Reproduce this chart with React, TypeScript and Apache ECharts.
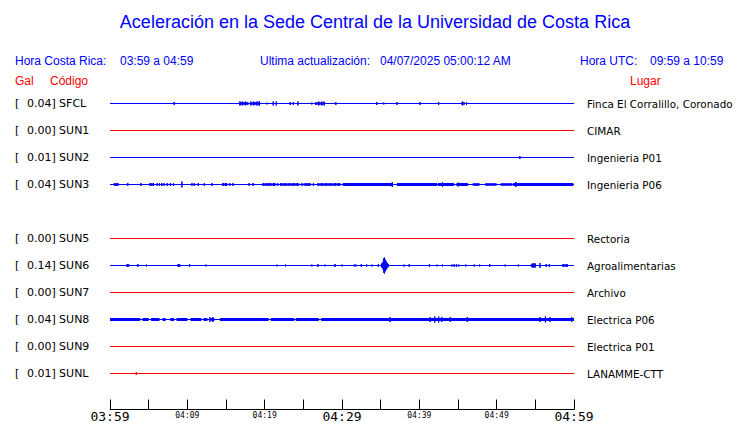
import React, { useEffect, useRef } from 'react';
import * as echarts from 'echarts';

// ---------- data ----------
const codes = ['SFCL', 'SUN1', 'SUN2', 'SUN3', 'SUN5', 'SUN6', 'SUN7', 'SUN8', 'SUN9', 'SUNL'];
const rows = [0, 1, 2, 3, 5, 6, 7, 8, 9, 10];
const pga = [0.04, 0.0, 0.01, 0.04, 0.0, 0.14, 0.0, 0.04, 0.0, 0.01];
const places = [
  'Finca El Corralillo, Coronado', 'CIMAR', 'Ingenieria P01', 'Ingenieria P06', 'Rectoria',
  'Agroalimentarias', 'Archivo', 'Electrica P06', 'Electrica P01', 'LANAMME-CTT',
];
const active = [true, false, true, true, false, true, false, true, false, false];
const tickLabels = ['03:59', '04:09', '04:19', '04:29', '04:39', '04:49', '04:59'];
const bigTickLabels = ['03:59', '04:29', '04:59'];

// spikes: [minute, half amplitude in px]; bands: [start, end, half width in px]
const sfclSpikes = [[8.3, 1.5], [16.8, 2], [17.1, 2], [17.5, 2], [17.8, 1.5], [18.2, 2], [18.6, 2], [19.0, 2], [19.3, 2.5], [20.3, 1], [21.1, 2], [21.5, 2], [23.3, 1.5], [23.7, 1.5], [24.3, 2], [26.1, 1], [26.6, 1.5], [27.0, 2], [27.4, 2], [27.7, 2], [29.2, 1.5], [34.5, 1.5], [35.4, 1], [37.1, 1.5], [40.1, 1.5], [42.5, 1.5], [45.6, 2], [46.1, 1.5]];
const sfclBands = [[16.7, 17.9, 1.3], [18.2, 19.4, 1.3], [26.6, 27.7, 1.2], [45.4, 45.9, 1.2]];
const sun1Spikes: number[][] = [];
const sun1Bands: number[][] = [];
const sun2Spikes = [[53.0, 1.5]];
const sun2Bands: number[][] = [];
const sun3Spikes = [[0.6, 1.5], [1.0, 1.5], [2.3, 1.5], [4.0, 1.5], [5.2, 1.5], [5.6, 1.5], [6.1, 1.5], [6.4, 1.5], [6.7, 1.5], [7.0, 1.5], [7.4, 1.5], [7.8, 1.5], [8.2, 1.5], [9.3, 3], [10.6, 1.5], [10.9, 1.5], [11.4, 1.5], [12.2, 1.5], [13.2, 1.5], [14.6, 1.5], [15.0, 1.5], [15.5, 1.5], [15.9, 1.5], [18.0, 1.5], [18.5, 1.5], [19.8, 1.5], [20.3, 1.5], [20.7, 1.5], [21.2, 1.5], [21.7, 1.5], [22.1, 1.5], [22.6, 1.5], [23.2, 1.5], [23.7, 1.5], [24.2, 1.5], [24.8, 1.5], [25.3, 1.5], [25.7, 1.5], [26.3, 1.5], [26.9, 1.5], [27.4, 1.5], [28.0, 1.5], [28.5, 1.5], [29.1, 1.5], [29.6, 1.5], [36.5, 2.5], [43.0, 2.5], [45.0, 2], [52.5, 2.5]];
const sun3Bands = [[0.5, 1.1, 1.3], [5.1, 5.7, 1.2], [14.5, 15.2, 1.2], [19.8, 21.5, 1.2], [22.0, 24.5, 1.2], [25.0, 26.0, 1.2], [27.0, 29.8, 1.2], [30.1, 36.6, 1.5], [37.1, 42.3, 1.5], [42.4, 44.5, 1.5], [44.8, 46.3, 1.5], [46.9, 47.8, 1.3], [48.5, 50.0, 1.3], [50.5, 52.0, 1.3], [52.1, 59.9, 1.5]];
const sun5Spikes: number[][] = [];
const sun5Bands: number[][] = [];
const sun6Spikes = [[2.3, 1.5], [3.6, 1.5], [4.7, 1], [8.9, 1.5], [10.3, 1.5], [12.4, 1], [21.6, 1], [22.7, 1], [26.1, 1], [26.9, 1.5], [27.8, 1], [29.1, 1.5], [30.0, 1], [31.6, 1], [31.8, 1], [32.5, 1.5], [33.2, 1], [33.9, 1], [34.7, 1.5], [35.1, 2], [35.25, 3], [35.35, 5], [35.42, 7.5], [35.5, 8], [35.58, 6], [35.65, 5], [35.72, 4], [35.8, 3], [35.9, 2], [36.0, 1.5], [38.0, 1], [38.7, 1.5], [41.3, 1.5], [42.3, 1], [43.0, 1], [44.2, 1], [44.5, 1.5], [44.8, 1.5], [45.1, 1], [46.0, 1], [47.1, 1], [47.8, 1], [49.1, 1.5], [51.1, 1], [52.8, 1], [54.6, 2], [54.8, 2.5], [55.0, 2], [55.6, 2.5], [56.4, 1.5], [56.8, 1.5], [58.6, 1.5], [59.1, 1.5]];
const sun6Bands = [[2.1, 2.5, 1.3], [8.7, 9.1, 1.3], [35.2, 35.9, 2], [54.4, 55.1, 1.3], [58.5, 59.2, 1.2]];
const sun7Spikes: number[][] = [];
const sun7Bands: number[][] = [];
const sun8Spikes = [[12.9, 2.5], [13.3, 2.5], [36.2, 2.5], [41.4, 2.5], [42.0, 3], [42.5, 3], [42.9, 2.5], [44.0, 2.5], [46.2, 2.5], [55.6, 2.5], [56.3, 3], [56.9, 2.5], [59.7, 2.5]];
const sun8Bands = [[0, 3.9, 1.5], [4.2, 5.0, 1.5], [5.3, 6.4, 1.5], [6.8, 7.2, 1.5], [7.8, 8.3, 1.5], [8.6, 10.0, 1.5], [10.4, 11.8, 1.5], [12.1, 12.6, 1.5], [13.0, 13.5, 1.5], [14.2, 20.5, 1.5], [20.8, 23.8, 1.5], [24.0, 27.0, 1.5], [27.3, 60, 1.5]];
const sun9Spikes: number[][] = [];
const sun9Bands: number[][] = [];
const sunlSpikes = [[3.4, 1.5]];
const sunlBands: number[][] = [];

const allSpikes = [sfclSpikes, sun1Spikes, sun2Spikes, sun3Spikes, sun5Spikes, sun6Spikes, sun7Spikes, sun8Spikes, sun9Spikes, sunlSpikes];
const allBands = [sfclBands, sun1Bands, sun2Bands, sun3Bands, sun5Bands, sun6Bands, sun7Bands, sun8Bands, sun9Bands, sunlBands];

// ---------- layout ----------
const BLUE = '#0000ff';
const RED = '#ff0000';
const ROW_PX = 27;
const Y_MIN = -1;
const GRID_TOP = 76.5;
const GRID_BOTTOM = 13.5;
const GRID_H = 423 - GRID_TOP - GRID_BOTTOM;
const Y_MAX = Y_MIN + GRID_H / ROW_PX;
const SANS = '"Liberation Sans", Arial, sans-serif';
const DEJAVU = '"DejaVu Sans", sans-serif';
const MONO = '"DejaVu Sans Mono", monospace';

function rowIndex(v: number): number {
  const r = Math.round(v);
  if (Math.abs(v - r) > 1e-6) return -1;
  return rows.indexOf(r);
}

export default function App() {
  const ref = useRef<HTMLDivElement>(null);

  useEffect(() => {
    if (!ref.current) return;
    const chart = echarts.init(ref.current, undefined, { renderer: 'svg' });

    const series: any[] = [];
    codes.forEach((code, i) => {
      const row = rows[i];
      const color = active[i] ? BLUE : RED;
      const sp = [...allSpikes[i]].sort((a, b) => a[0] - b[0]);
      const pts: number[][] = [[0, row]];
      sp.forEach(([m, a]) => {
        const d = a / ROW_PX;
        pts.push([m, row], [m, row - d], [m, row + d], [m, row]);
      });
      pts.push([60, row]);
      series.push({
        type: 'line',
        name: code,
        data: pts,
        symbol: 'none',
        lineStyle: { color, width: 1 },
        silent: true,
        z: 2,
      });
      if (allBands[i].length) {
        series.push({
          type: 'custom',
          name: code + '-band',
          data: allBands[i].map((b) => [b[0], b[1], row, b[2]]),
          encode: { x: [0, 1], y: 2 },
          silent: true,
          z: 3,
          renderItem: (params: any, api: any) => {
            const p1 = api.coord([api.value(0), api.value(2)]);
            const p2 = api.coord([api.value(1), api.value(2)]);
            const h = api.value(3);
            return {
              type: 'rect',
              shape: { x: p1[0], y: p1[1] - h, width: p2[0] - p1[0], height: 2 * h },
              style: { fill: color },
            };
          },
        });
      }
    });

    const option: any = {
      animation: false,
      backgroundColor: '#ffffff',
      grid: {
        left: 110, right: 166, top: GRID_TOP, bottom: GRID_BOTTOM,
        containLabel: false, outerBoundsMode: 'none',
      },
      xAxis: {
        type: 'value',
        position: 'bottom',
        min: 0,
        max: 60,
        interval: 5,
        axisLine: { show: true, onZero: false, lineStyle: { color: '#000', width: 1 } },
        axisTick: { show: true, inside: true, length: 10, lineStyle: { color: '#000' } },
        splitLine: { show: false },
        axisLabel: {
          show: true,
          margin: 1,
          showMinLabel: true,
          showMaxLabel: true,
          formatter: (v: number) => {
            const m = Math.round(v);
            if (m % 10 !== 0) return '';
            const lbl = tickLabels[m / 10];
            return bigTickLabels.includes(lbl) ? `{big|${lbl}}` : `{small|${lbl}}`;
          },
          rich: {
            big: { fontFamily: MONO, fontSize: 13, lineHeight: 12, color: '#000' },
            small: { fontFamily: MONO, fontSize: 8, lineHeight: 10, color: '#000' },
          },
        },
      },
      yAxis: [
        {
          type: 'value',
          inverse: true,
          min: Y_MIN,
          max: Y_MAX,
          interval: 1,
          axisLine: { show: false },
          axisTick: { show: false },
          splitLine: { show: false },
          axisLabel: {
            margin: 95,
            align: 'left',
            showMinLabel: true,
            showMaxLabel: true,
            formatter: (v: number) => {
              const i = rowIndex(v);
              if (i < 0) return '';
              return `{a|[}{b|${pga[i].toFixed(2)}]} {c|${codes[i]}}`;
            },
            rich: {
              a: { fontFamily: DEJAVU, fontSize: 11, color: '#000', width: 12 },
              b: { fontFamily: DEJAVU, fontSize: 11, color: '#000' },
              c: { fontFamily: DEJAVU, fontSize: 11, color: '#000' },
            },
          },
        },
        {
          type: 'value',
          position: 'right',
          inverse: true,
          min: Y_MIN,
          max: Y_MAX,
          interval: 1,
          axisLine: { show: false },
          axisTick: { show: false },
          splitLine: { show: false },
          axisLabel: {
            margin: 13,
            align: 'left',
            fontFamily: DEJAVU,
            fontSize: 10.4,
            color: '#000',
            formatter: (v: number) => {
              const i = rowIndex(v);
              return i < 0 ? '' : places[i];
            },
          },
        },
      ],
      graphic: [
        { type: 'text', x: 375, y: 22, style: { text: 'Aceleración en la Sede Central de la Universidad de Costa Rica', font: `18px ${SANS}`, fill: BLUE, align: 'center', verticalAlign: 'middle' } },
        { type: 'text', x: 15, y: 61, style: { text: 'Hora Costa Rica:', font: `12px ${SANS}`, fill: BLUE, verticalAlign: 'middle' } },
        { type: 'text', x: 120, y: 61, style: { text: '03:59 a 04:59', font: `12px ${SANS}`, fill: BLUE, verticalAlign: 'middle' } },
        { type: 'text', x: 260, y: 61, style: { text: 'Ultima actualización:', font: `12px ${SANS}`, fill: BLUE, verticalAlign: 'middle' } },
        { type: 'text', x: 380, y: 61, style: { text: '04/07/2025 05:00:12 AM', font: `12px ${SANS}`, fill: BLUE, verticalAlign: 'middle' } },
        { type: 'text', x: 580, y: 61, style: { text: 'Hora UTC:', font: `12px ${SANS}`, fill: BLUE, verticalAlign: 'middle' } },
        { type: 'text', x: 650, y: 61, style: { text: '09:59 a 10:59', font: `12px ${SANS}`, fill: BLUE, verticalAlign: 'middle' } },
        { type: 'text', x: 15, y: 81, style: { text: 'Gal', font: `12px ${SANS}`, fill: RED, verticalAlign: 'middle' } },
        { type: 'text', x: 50, y: 81, style: { text: 'Código', font: `12px ${SANS}`, fill: RED, verticalAlign: 'middle' } },
        { type: 'text', x: 630, y: 81, style: { text: 'Lugar', font: `12px ${SANS}`, fill: RED, verticalAlign: 'middle' } },
      ],
      series,
    };

    chart.setOption(option);
    return () => chart.dispose();
  }, []);

  return (
    <div style={{ position: 'absolute', left: 0, top: 0, width: 740, height: 423, background: '#fff' }}>
      <div ref={ref} style={{ width: 740, height: 423 }} />
    </div>
  );
}
